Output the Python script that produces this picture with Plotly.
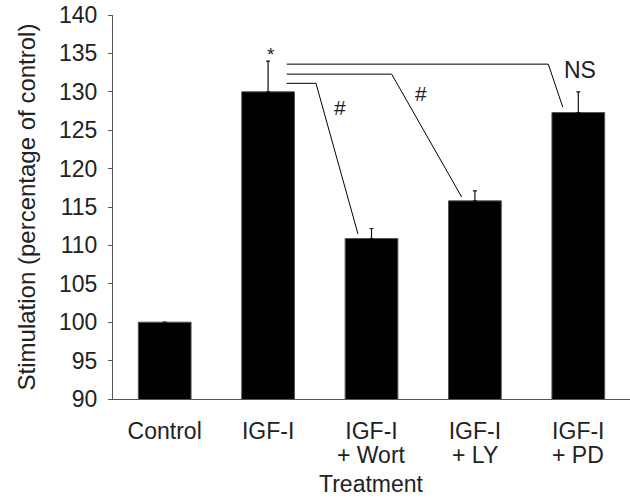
import plotly.graph_objects as go

categories = ["Control", "IGF-I", "IGF-I", "IGF-I", "IGF-I"]
categories_line2 = ["", "", "+ Wort", "+ LY", "+ PD"]
values = [100.0, 130.0, 110.9, 115.8, 127.3]
errors = [None, 4.0, 1.3, 1.3, 2.7]
y_ticks = [90, 95, 100, 105, 110, 115, 120, 125, 130, 135, 140]
x_title = "Treatment"
y_title = "Stimulation (percentage of control)"

# significance brackets (data coordinates: category index, y value)
bracket_x = [[1.18, 3.71, 3.85], [1.18, 2.195, 2.872], [1.18, 1.463, 1.869]]
bracket_y = [[133.6, 133.6, 128.0], [132.3, 132.3, 116.3], [131.1, 131.1, 111.5]]
marks_text = ["*", "#", "#", "NS"]
marks_x = [1.025, 1.695, 2.476, 4.016]
marks_y = [134.9, 127.9, 129.8, 132.8]
marks_size = [19, 21, 21, 23]

FONT = "Liberation Sans, Arial, sans-serif"
TXT = "#222222"
idx = list(range(len(categories)))

fig = go.Figure()
fig.add_trace(go.Bar(
    x=idx, y=values, width=0.51,
    marker=dict(color="black", line=dict(color="#555555", width=1)),
    error_y=dict(type="data", symmetric=False,
                 array=[e if e is not None else float("nan") for e in errors],
                 arrayminus=[0 for _ in errors],
                 color="#111111", thickness=1.2, width=2),
    showlegend=False,
))
for bx, by in zip(bracket_x, bracket_y):
    fig.add_trace(go.Scatter(x=bx, y=by, mode="lines",
                             line=dict(color="black", width=1),
                             showlegend=False, hoverinfo="skip"))
for t, x, y, s in zip(marks_text, marks_x, marks_y, marks_size):
    fig.add_annotation(x=x, y=y, text=t, showarrow=False,
                       font=dict(family=FONT, size=s, color=TXT),
                       xanchor="center", yanchor="middle")
# second line of the category labels (tighter line spacing than plotly's <br>)
for i, t in zip(idx, categories_line2):
    if t:
        fig.add_annotation(x=i, xref="x", y=-0.146, yref="paper", text=t,
                           showarrow=False, xanchor="center", yanchor="middle",
                           font=dict(family=FONT, size=23, color=TXT))
# x-axis title (placed below the margin-constrained title area)
fig.add_annotation(x=0.5, xref="paper", y=-0.221, yref="paper", text=x_title,
                   showarrow=False, xanchor="center", yanchor="middle",
                   font=dict(family=FONT, size=23, color=TXT))

fig.update_layout(
    width=630, height=500,
    margin=dict(l=113, r=0, t=15, b=101),
    plot_bgcolor="white", paper_bgcolor="white",
    font=dict(family=FONT, size=23, color=TXT),
    bargap=0.49,
)
fig.update_xaxes(
    range=[-0.5, 4.5], tickmode="array", tickvals=idx, ticktext=categories,
    showline=True, linecolor="#555555", linewidth=1, ticks="",
    showgrid=False, zeroline=False, ticklabelstandoff=11,
    tickfont=dict(size=23, color=TXT),
)
fig.update_yaxes(
    range=[90, 140], tickmode="array", tickvals=y_ticks,
    showline=True, linecolor="#555555", linewidth=1,
    ticks="outside", ticklen=4, tickcolor="#555555", tickwidth=1,
    showgrid=False, zeroline=False, ticklabelstandoff=6,
    tickfont=dict(size=23, color=TXT),
    title=dict(text=y_title, font=dict(size=24, color=TXT), standoff=16),
)

fig.write_html("out.html")
